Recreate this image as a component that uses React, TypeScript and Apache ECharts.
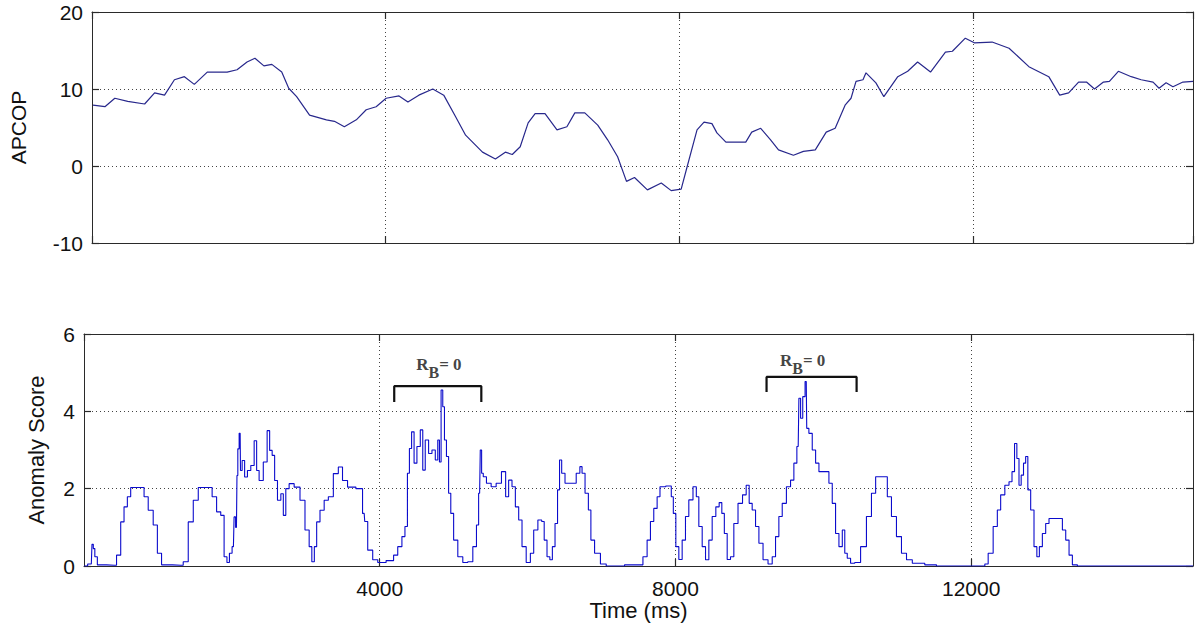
import React, { useEffect, useRef } from "react";
import * as echarts from "echarts";

// ---------- DATA ----------
const apcopTime = [14, 176, 311, 487, 717, 853, 988, 1123, 1259, 1394, 1570, 1841, 1976, 2112, 2220, 2342, 2450, 2585, 2680, 2788, 2964, 3194, 3303, 3438, 3601, 3736, 3871, 4007, 4183, 4304, 4453, 4643, 4792, 4954, 5090, 5320, 5496, 5631, 5726, 5834, 5942, 6037, 6172, 6335, 6470, 6578, 6714, 6890, 7025, 7161, 7282, 7391, 7567, 7756, 7891, 8027, 8108, 8243, 8338, 8446, 8514, 8636, 8907, 8988, 9110, 9245, 9353, 9556, 9692, 9854, 10003, 10125, 10260, 10341, 10409, 10504, 10545, 10680, 10788, 10978, 11113, 11248, 11424, 11627, 11722, 11898, 12020, 12263, 12494, 12764, 13035, 13184, 13306, 13441, 13549, 13658, 13780, 13861, 13983, 14159, 14294, 14456, 14538, 14633, 14727, 14863, 15000];
const apcopValue = [7.9, 7.7, 8.8, 8.4, 8.05, 9.5, 9.2, 11.2, 11.6, 10.6, 12.2, 12.2, 12.5, 13.5, 14.0, 13.0, 13.2, 12.2, 10.1, 9.0, 6.6, 6.0, 5.8, 5.1, 6.0, 7.3, 7.7, 8.8, 9.1, 8.3, 9.2, 10.0, 9.2, 6.4, 4.0, 1.8, 0.9, 1.8, 1.5, 2.5, 5.6, 6.8, 6.8, 4.7, 5.1, 6.9, 6.9, 5.3, 3.4, 1.2, -2.0, -1.5, -3.1, -2.2, -3.2, -3.0, -0.1, 4.7, 5.7, 5.5, 4.3, 3.1, 3.1, 4.4, 4.9, 3.4, 2.1, 1.4, 1.9, 2.1, 4.4, 4.9, 7.9, 8.8, 11.0, 11.2, 12.1, 10.8, 9.0, 11.6, 12.3, 13.5, 12.2, 14.8, 14.9, 16.6, 16.0, 16.1, 15.3, 12.9, 11.6, 9.2, 9.5, 10.9, 10.9, 10.0, 10.9, 11.0, 12.3, 11.6, 11.2, 10.9, 10.1, 10.8, 10.3, 10.9, 11.0];

const scoreTime = [0, 99, 117, 135, 158, 203, 406, 474, 519, 564, 609, 654, 790, 835, 902, 970, 1015, 1083, 1308, 1376, 1444, 1512, 1579, 1706, 1760, 1827, 1872, 1918, 1949, 1985, 2021, 2039, 2062, 2076, 2085, 2112, 2121, 2157, 2188, 2233, 2279, 2324, 2346, 2391, 2459, 2495, 2527, 2563, 2594, 2640, 2685, 2707, 2752, 2797, 2888, 2955, 3023, 3068, 3095, 3136, 3158, 3226, 3271, 3339, 3406, 3474, 3519, 3610, 3745, 3790, 3804, 3871, 3939, 4007, 4165, 4210, 4277, 4323, 4359, 4390, 4413, 4449, 4480, 4526, 4571, 4593, 4638, 4684, 4729, 4774, 4796, 4819, 4841, 4864, 4887, 4918, 4945, 4977, 5022, 5090, 5157, 5225, 5293, 5324, 5351, 5369, 5387, 5414, 5473, 5541, 5608, 5685, 5721, 5766, 5812, 5857, 5902, 5947, 6015, 6060, 6105, 6173, 6209, 6240, 6285, 6317, 6353, 6389, 6421, 6443, 6479, 6533, 6624, 6691, 6723, 6750, 6804, 6840, 6872, 6940, 7030, 7097, 7526, 7594, 7639, 7684, 7729, 7775, 7806, 7932, 7955, 7987, 8023, 8068, 8113, 8158, 8203, 8271, 8293, 8339, 8384, 8429, 8474, 8519, 8573, 8609, 8645, 8677, 8722, 8767, 8812, 8880, 8934, 8979, 9015, 9060, 9106, 9151, 9218, 9286, 9331, 9376, 9421, 9467, 9534, 9579, 9624, 9660, 9679, 9706, 9737, 9769, 9782, 9827, 9873, 9918, 9963, 10053, 10098, 10143, 10188, 10234, 10279, 10301, 10346, 10391, 10459, 10549, 10617, 10685, 10730, 10843, 10888, 10955, 11023, 11091, 11159, 11248, 11496, 11564, 12173, 12196, 12263, 12331, 12376, 12421, 12489, 12534, 12570, 12602, 12633, 12660, 12692, 12723, 12750, 12782, 12827, 12872, 12904, 12940, 12985, 13030, 13075, 13211, 13256, 13301, 13346, 13391, 13481, 15000];
const scoreValue = [0, 0.05, 0.56, 0.45, 0.24, 0.03, 0.02, 0.28, 1.14, 1.53, 1.79, 2.03, 2.03, 1.79, 1.44, 1.06, 0.33, 0.03, 0.02, 0.11, 1.14, 1.7, 2.03, 2.03, 1.79, 1.4, 1.31, 0.24, 0.09, 0.33, 0.5, 1.27, 1.0, 2.34, 3.03, 3.43, 2.47, 2.73, 2.3, 2.47, 2.6, 3.24, 2.47, 2.21, 2.69, 3.5, 2.99, 2.86, 2.21, 1.7, 1.87, 1.31, 2.0, 2.13, 2.04, 1.7, 0.93, 0.5, 0.11, 0.5, 1.14, 1.44, 1.7, 1.79, 2.39, 2.56, 2.21, 2.04, 2.0, 1.36, 1.15, 0.41, 0.16, 0.09, 0.14, 0.28, 0.5, 0.76, 1.02, 2.4, 3.04, 3.47, 2.66, 3.09, 3.52, 2.48, 3.26, 2.91, 3.0, 2.74, 3.26, 2.69, 4.55, 4.12, 3.26, 2.83, 1.88, 1.36, 0.67, 0.24, 0.09, 0.11, 0.5, 1.06, 1.88, 3.0, 2.4, 2.31, 2.14, 2.05, 2.14, 2.44, 1.79, 2.22, 2.05, 1.53, 1.19, 0.5, 0.09, 0.33, 0.93, 1.19, 1.15, 0.67, 0.24, 0.16, 0.5, 1.1, 1.97, 2.74, 2.4, 2.14, 2.14, 2.4, 2.57, 2.4, 1.88, 1.45, 0.67, 0.33, 0.05, 0, 0.03, 0.24, 0.67, 1.15, 1.49, 1.79, 2.05, 2.07, 1.79, 1.36, 0.5, 0.17, 0.67, 1.28, 1.71, 2.05, 1.79, 1.02, 0.5, 0.16, 0.67, 1.28, 1.53, 1.64, 1.36, 0.84, 0.17, 0.24, 1.1, 1.62, 1.84, 2.09, 1.62, 1.45, 1.02, 0.59, 0.16, 0.05, 0.24, 0.76, 1.28, 1.62, 2.05, 2.22, 2.66, 3.09, 4.34, 3.82, 4.38, 4.77, 3.56, 3.43, 3.0, 2.66, 2.44, 2.44, 2.14, 1.62, 0.84, 0.5, 0.93, 0.33, 0.2, 0.07, 0.09, 0.5, 1.28, 1.88, 2.31, 2.31, 1.79, 1.28, 0.76, 0.33, 0.16, 0.07, 0.03, 0, 0, 0.05, 0.33, 1.02, 1.45, 1.84, 2.09, 2.18, 2.44, 3.17, 2.78, 2.09, 2.35, 2.66, 2.83, 1.97, 1.45, 0.5, 0.24, 0.5, 0.84, 1.1, 1.23, 1.23, 0.93, 0.67, 0.28, 0.03, 0, 0];

const timeTicks = [0, 4000, 8000, 12000];
const bracketStart = [4196, 9232];
const bracketEnd = [5374, 10450];
const bracketTop = [4.65, 4.89];
const bracketLeg = [4.24, 4.5];
const bracketLabelX = [4800, 9720];
const bracketLabelY = [5.1, 5.2];
const bracketLabel = ["R|B|= 0", "R|B|= 0"];

const SANS = "'Liberation Sans', Arial, Helvetica, sans-serif";
const SERIF = "'Liberation Serif', 'Times New Roman', serif";
const AX = "#2a2a2a";
const GRIDC = "#444";

export default function App() {
  const ref = useRef<HTMLDivElement>(null);
  useEffect(() => {
    if (!ref.current) return;
    const chart = echarts.init(ref.current, null, { renderer: "svg" });
    const apcop = apcopTime.map((t, i) => [t, apcopValue[i]]);
    const score = scoreTime.map((t, i) => [t, scoreValue[i]]);

    const xCommon = (gridIndex: number, position: "top" | "bottom", labels: boolean, split: boolean) => ({
      type: "value",
      gridIndex,
      position,
      min: 0,
      max: 15000,
      interval: 4000,
      axisLine: { show: true, onZero: false, lineStyle: { color: AX, width: 1 } },
      axisTick: { show: true, inside: true, length: 7, lineStyle: { color: AX, width: 1.2 } },
      axisLabel: {
        show: labels,
        fontFamily: SANS,
        fontSize: 21,
        color: "#111",
        margin: 12,
        showMinLabel: false,
        showMaxLabel: false,
        formatter: (v: number) => (timeTicks.indexOf(v) > 0 ? String(v) : ""),
      },
      splitLine: { show: split, lineStyle: { color: GRIDC, type: [1, 3], width: 1 } },
    });
    const yCommon = (gridIndex: number, position: "left" | "right", min: number, max: number, interval: number, labels: boolean, split: boolean) => ({
      type: "value",
      gridIndex,
      position,
      min,
      max,
      interval,
      axisLine: { show: true, onZero: false, lineStyle: { color: AX, width: 1 } },
      axisTick: { show: true, inside: true, length: 7, lineStyle: { color: AX, width: 1.2 } },
      axisLabel: { show: labels, fontFamily: SANS, fontSize: 21, color: "#111", margin: 9 },
      splitLine: { show: split, lineStyle: { color: GRIDC, type: [1, 3], width: 1 } },
    });

    const bracketSeries = bracketStart.map((s, i) => ({
      type: "line",
      xAxisIndex: 2,
      yAxisIndex: 2,
      data: [
        [s, bracketLeg[i]],
        [s, bracketTop[i]],
        [bracketEnd[i], bracketTop[i]],
        [bracketEnd[i], bracketLeg[i]],
      ],
      showSymbol: false,
      lineStyle: { color: "#111", width: 2.2 },
      z: 5,
    }));

    chart.setOption({
      animation: false,
      backgroundColor: "#ffffff",
      grid: [
        { left: 84, top: 12, width: 1109, height: 231 },
        { left: 84, top: 334, width: 1109, height: 232 },
      ],
      xAxis: [
        xCommon(0, "bottom", false, true),
        xCommon(0, "top", false, false),
        {
          ...xCommon(1, "bottom", true, true),
          name: "Time (ms)",
          nameLocation: "middle",
          nameGap: 32,
          nameTextStyle: { fontFamily: SANS, fontSize: 22, color: "#111" },
        },
        xCommon(1, "top", false, false),
      ],
      yAxis: [
        {
          ...yCommon(0, "left", -10, 20, 10, true, true),
          name: "APCOP",
          nameLocation: "middle",
          nameGap: 63,
          nameTextStyle: { fontFamily: SANS, fontSize: 21, color: "#111" },
        },
        yCommon(0, "right", -10, 20, 10, false, false),
        {
          ...yCommon(1, "left", 0, 6, 2, true, true),
          name: "Anomaly Score",
          nameLocation: "middle",
          nameGap: 37,
          nameTextStyle: { fontFamily: SANS, fontSize: 22, color: "#111" },
        },
        yCommon(1, "right", 0, 6, 2, false, false),
      ],
      series: [
        {
          type: "line",
          xAxisIndex: 0,
          yAxisIndex: 0,
          data: apcop,
          showSymbol: false,
          lineStyle: { color: "#28288c", width: 1.2 },
          z: 3,
        },
        {
          type: "line",
          xAxisIndex: 2,
          yAxisIndex: 2,
          data: score,
          step: "middle",
          showSymbol: false,
          lineStyle: { color: "#0b0bcc", width: 1.1 },
          z: 3,
        },
        ...bracketSeries,
        {
          type: "scatter",
          xAxisIndex: 2,
          yAxisIndex: 2,
          symbolSize: 0,
          data: bracketLabelX.map((x, i) => ({
            value: [x, bracketLabelY[i]],
            name: bracketLabel[i],
          })),
          label: {
            show: true,
            position: "inside",
            formatter: (p: any) => {
              const parts = String(p.name).split("|");
              return `{r|${parts[0]}}{s|${parts[1]}}{r|${parts[2]}}`;
            },
            rich: {
              r: { fontFamily: SERIF, fontWeight: "bold", fontSize: 17, color: "#111", lineHeight: 18, padding: [0, 0, 8, 0] },
              s: { fontFamily: SERIF, fontWeight: "bold", fontSize: 16, color: "#111", lineHeight: 18, padding: [8, 0, 0, 0] },
            },
          },
          z: 6,
        },
      ],
    });
    return () => chart.dispose();
  }, []);
  return (
    <div
      ref={ref}
      style={{ position: "fixed", left: 0, top: 0, width: 1200, height: 636, background: "#fff" }}
    />
  );
}
